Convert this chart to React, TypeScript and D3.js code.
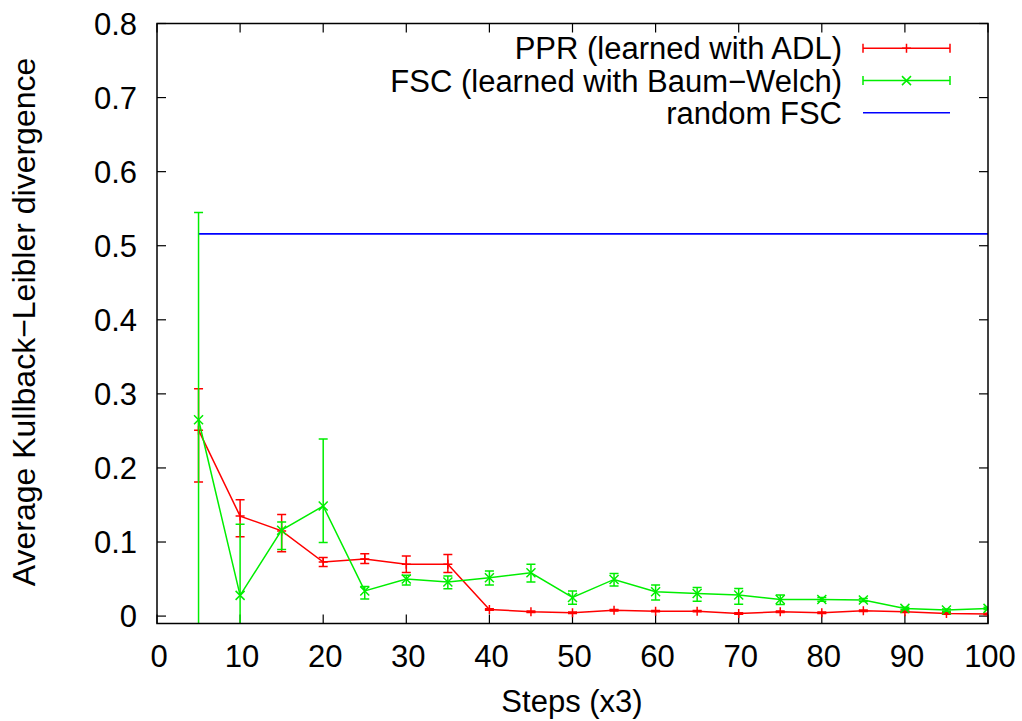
import * as d3 from "d3";

// values
const steps = [5, 10, 15, 20, 25, 30, 35, 40, 45, 50, 55, 60, 65, 70, 75, 80, 85, 90, 95, 100];

const pprMean = [0.251, 0.135, 0.115, 0.073, 0.077, 0.070, 0.070, 0.009, 0.006, 0.0045, 0.008, 0.0067, 0.0067, 0.0036, 0.0058, 0.0045, 0.0072, 0.0058, 0.0036, 0.0027];
const pprLow = [0.181, 0.107, 0.087, 0.067, 0.071, 0.059, 0.059, 0.008, 0.005, 0.0035, 0.007, 0.0057, 0.0057, 0.0026, 0.0048, 0.0035, 0.0062, 0.0048, 0.0026, 0.0017];
const pprHigh = [0.307, 0.157, 0.137, 0.079, 0.084, 0.081, 0.083, 0.010, 0.007, 0.0055, 0.009, 0.0077, 0.0077, 0.0046, 0.0068, 0.0055, 0.0082, 0.0068, 0.0046, 0.0037];

const fscMean = [0.265, 0.028, 0.116, 0.1485, 0.034, 0.050, 0.046, 0.0517, 0.0585, 0.0252, 0.0495, 0.0328, 0.0306, 0.0284, 0.0225, 0.0225, 0.0216, 0.0104, 0.0081, 0.0104];
const fscLow = [-0.03, -0.07, 0.09, 0.0995, 0.023, 0.042, 0.037, 0.042, 0.046, 0.016, 0.0405, 0.0216, 0.020, 0.016, 0.0158, 0.020, 0.0196, 0.0088, 0.0065, 0.0088];
const fscHigh = [0.545, 0.124, 0.127, 0.239, 0.040, 0.055, 0.054, 0.061, 0.070, 0.034, 0.0576, 0.042, 0.0387, 0.0374, 0.0284, 0.025, 0.0236, 0.012, 0.0097, 0.012];

const randomFsc = 0.516;

const xTicks = [0, 10, 20, 30, 40, 50, 60, 70, 80, 90, 100];
const yTicks = [0, 0.1, 0.2, 0.3, 0.4, 0.5, 0.6, 0.7, 0.8];

const legendLabels = ["PPR (learned with ADL)", "FSC (learned with Baum\u2212Welch)", "random FSC"];

const RED = "#ff0000";
const GREEN = "#00ee00";
const BLUE = "#0000ff";
const FONT = "'Liberation Sans', Arial, Helvetica, sans-serif";

type Pt = { x: number; y: number; lo: number; hi: number };

function Plus({ cx, cy, s, color }: { cx: number; cy: number; s: number; color: string }) {
  return (
    <path d={`M${cx - s},${cy}H${cx + s}M${cx},${cy - s}V${cy + s}`} stroke={color} strokeWidth={1.5} fill="none" />
  );
}

function Cross({ cx, cy, s, color }: { cx: number; cy: number; s: number; color: string }) {
  return (
    <path d={`M${cx - s},${cy - s}L${cx + s},${cy + s}M${cx - s},${cy + s}L${cx + s},${cy - s}`} stroke={color} strokeWidth={1.5} fill="none" />
  );
}

export default function App() {
  const width = 1022;
  const height = 721;
  const left = 157;
  const right = 988;
  const top = 23.5;
  const bottom = 623.5;

  const x = d3.scaleLinear([0, 100], [left, right]);
  const y = d3.scaleLinear([-0.01, 0.8], [bottom, top]);

  const ppr: Pt[] = steps.map((s, i) => ({ x: s, y: pprMean[i], lo: pprLow[i], hi: pprHigh[i] }));
  const fsc: Pt[] = steps.map((s, i) => ({ x: s, y: fscMean[i], lo: fscLow[i], hi: fscHigh[i] }));

  const line = d3.line<Pt>().x((d) => x(d.x)).y((d) => y(d.y));
  const cap = 4.5;
  const tick = 9;

  const errBars = (data: Pt[], color: string) =>
    data.map((d, i) => {
      const cx = x(d.x);
      return (
        <path
          key={i}
          d={`M${cx},${y(d.lo)}V${y(d.hi)}M${cx - cap},${y(d.lo)}H${cx + cap}M${cx - cap},${y(d.hi)}H${cx + cap}`}
          stroke={color}
          strokeWidth={1.5}
          fill="none"
        />
      );
    });

  const legendRows = [48.3, 80.6, 112.8];
  const sx0 = 863;
  const sx1 = 950;
  const sxm = (sx0 + sx1) / 2;

  return (
    <svg width={width} height={height} style={{ position: "absolute", left: 0, top: 0, background: "#fff" }} fontFamily={FONT}>
      <defs>
        <clipPath id="plotArea">
          <rect x={left} y={top} width={right - left} height={bottom - top} />
        </clipPath>
      </defs>
      <rect width={width} height={height} fill="#fff" />

      {/* ticks on all four sides, pointing inward */}
      <g stroke="#000" strokeWidth={1.2}>
        {yTicks.map((t) => (
          <g key={"y" + t}>
            <line x1={left} x2={left + tick} y1={y(t)} y2={y(t)} />
            <line x1={right} x2={right - tick} y1={y(t)} y2={y(t)} />
          </g>
        ))}
        {xTicks.map((t) => (
          <g key={"x" + t}>
            <line x1={x(t)} x2={x(t)} y1={bottom} y2={bottom - tick} />
            <line x1={x(t)} x2={x(t)} y1={top} y2={top + tick} />
          </g>
        ))}
      </g>

      {/* tick labels */}
      <g fontSize={31} fill="#000">
        {yTicks.map((t) => (
          <text key={"yl" + t} x={137} y={y(t) + 11} textAnchor="end">
            {d3.format("")(t)}
          </text>
        ))}
        {xTicks.map((t) => (
          <text key={"xl" + t} x={x(t) + 2} y={666.5} textAnchor="middle">
            {t}
          </text>
        ))}
      </g>

      {/* axis titles */}
      <text x={572} y={712} fontSize={31} textAnchor="middle">Steps (x3)</text>
      <text transform="translate(35,322) rotate(-90)" fontSize={32} textAnchor="middle">
        Average Kullback{"\u2212"}Leibler divergence
      </text>

      <g clipPath="url(#plotArea)">
        {/* random FSC */}
        <line x1={x(steps[0])} x2={x(steps[steps.length - 1])} y1={y(randomFsc)} y2={y(randomFsc)} stroke={BLUE} strokeWidth={1.6} />

        {/* PPR */}
        <g>{errBars(ppr, RED)}</g>
        <path d={line(ppr) ?? ""} fill="none" stroke={RED} strokeWidth={1.5} />
        {ppr.map((d, i) => (
          <Plus key={i} cx={x(d.x)} cy={y(d.y)} s={4.5} color={RED} />
        ))}

        {/* FSC */}
        <g>{errBars(fsc, GREEN)}</g>
        <path d={line(fsc) ?? ""} fill="none" stroke={GREEN} strokeWidth={1.5} />
        {fsc.map((d, i) => (
          <Cross key={i} cx={x(d.x)} cy={y(d.y)} s={4.5} color={GREEN} />
        ))}
      </g>

      {/* frame */}
      <rect x={left} y={top} width={right - left} height={bottom - top} fill="none" stroke="#000" strokeWidth={1.5} />

      {/* legend */}
      <g fontSize={31}>
        {legendLabels.map((l, i) => (
          <text key={l} x={842} y={legendRows[i] + 11} textAnchor="end">
            {l}
          </text>
        ))}
        <g stroke={RED} strokeWidth={1.5} fill="none">
          <path d={`M${sx0},${legendRows[0]}H${sx1}M${sx0},${legendRows[0] - cap}V${legendRows[0] + cap}M${sx1},${legendRows[0] - cap}V${legendRows[0] + cap}`} />
        </g>
        <Plus cx={sxm} cy={legendRows[0]} s={4.5} color={RED} />
        <g stroke={GREEN} strokeWidth={1.5} fill="none">
          <path d={`M${sx0},${legendRows[1]}H${sx1}M${sx0},${legendRows[1] - cap}V${legendRows[1] + cap}M${sx1},${legendRows[1] - cap}V${legendRows[1] + cap}`} />
        </g>
        <Cross cx={sxm} cy={legendRows[1]} s={4.5} color={GREEN} />
        <line x1={sx0} x2={sx1} y1={legendRows[2]} y2={legendRows[2]} stroke={BLUE} strokeWidth={1.6} />
      </g>
    </svg>
  );
}
